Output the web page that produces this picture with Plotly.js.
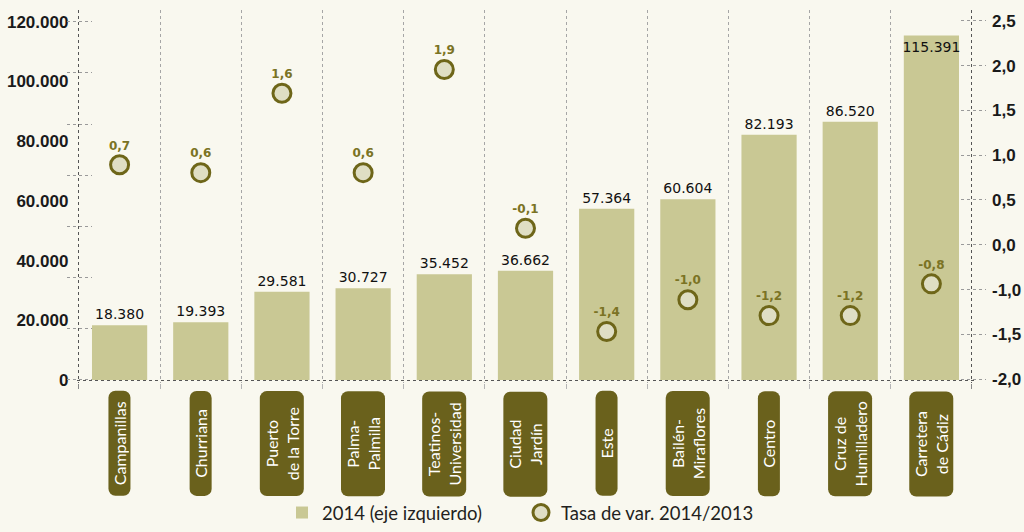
<!DOCTYPE html>
<html>
<head>
<meta charset="utf-8">
<script src="https://cdn.plot.ly/plotly-3.0.1.min.js"></script>
<style>
  html, body { margin: 0; padding: 0; background: #f9f8ef; }
  #chart { width: 1024px; height: 532px; }
</style>
</head>
<body>
<div id="chart"></div>
<script>
// ---- Data ----
const categories = ['Campanillas', 'Churriana', 'Puerto de la Torre', 'Palma-Palmilla', 'Teatinos-Universidad',
  'Ciudad Jardín', 'Este', 'Bailén-Miraflores', 'Centro', 'Cruz de Humilladero', 'Carretera de Cádiz'];
const categoryLabels = ['Campanillas', 'Churriana', 'Puerto<br>de la Torre', 'Palma-<br>Palmilla', 'Teatinos-<br>Universidad',
  'Ciudad<br>Jardín', 'Este', 'Bailén-<br>Miraflores', 'Centro', 'Cruz de<br>Humilladero', 'Carretera<br>de Cádiz'];
const population2014 = [18380, 19393, 29581, 30727, 35452, 36662, 57364, 60604, 82193, 86520, 115391];
const rateChange = [0.7, 0.6, 1.6, 0.6, 1.9, -0.1, -1.4, -1.0, -1.2, -1.2, -0.8];
const leftTickVals = [0, 20000, 40000, 60000, 80000, 100000, 120000];
const leftTickText = ['0', '20.000', '40.000', '60.000', '80.000', '100.000', '120.000'];
const rightTickText = ['-2,0', '-1,5', '-1,0', '0,0', '0,5', '1,0', '1,5', '2,0', '2,5'];
const barName = '2014 (eje izquierdo)';
const rateName = 'Tasa de var. 2014/2013';

// ---- Helpers ----
const W = 1024, H = 532;
const DY = 2;
const px = v => v / W;
const py = v => 1 - (v + DY) / H;
const fmtThousands = v => String(v).replace(/\B(?=(\d{3})+(?!\d))/g, '.');
const fmtRate = v => v.toFixed(1).replace('.', ',');

const bg = '#f9f8ef';
const barColor = '#c9c894';
const olive = '#6a611c';

const barPositions = population2014.map((v, i) => i === population2014.length - 1 ? 'inside' : 'outside');

const rightIdx = rightTickText.map((_, i) => i);
const leftMarkIdx = [0, 1, 2, 3, 4, 5, 6, 7];

const traces = [
  {
    type: 'bar', name: barName, x: categories, y: population2014,
    marker: { color: barColor }, width: 0.68,
    text: population2014.map(fmtThousands), textposition: barPositions,
    insidetextanchor: 'end', constraintext: 'none', textangle: 0,
    textfont: { family: 'DejaVu Sans', size: 14, color: '#111' },
    cliponaxis: false, hoverinfo: 'skip'
  },
  {
    type: 'scatter', name: rateName, x: categories, y: rateChange, yaxis: 'y2',
    mode: 'markers+text',
    marker: { size: 18, color: '#dfdec4', line: { color: '#6e6619', width: 3 } },
    text: rateChange.map(fmtRate), textposition: 'top center',
    textfont: { family: 'DejaVu Sans', size: 12, weight: 'bold', color: '#7b7324' },
    cliponaxis: false, hoverinfo: 'skip'
  },
  { type: 'scatter', x: [], y: [], xaxis: 'x3', yaxis: 'y3', showlegend: false, hoverinfo: 'skip' },
  { type: 'scatter', x: [], y: [], xaxis: 'x4', yaxis: 'y4', showlegend: false, hoverinfo: 'skip' },
  { type: 'scatter', x: [], y: [], xaxis: 'x2', yaxis: 'y5', showlegend: false, hoverinfo: 'skip' }
];

const unit = (972 - 79) / 11;
const xDom = [px(79 - 0.02 * unit), px(972 + 0.02 * unit)];
const yDom = [py(384), py(8)];
const pxPer1000 = (381 - 20) / 120;
const yRange = [-(384 - 381) / pxPer1000 * 1000, 120000 + (20 - 8) / pxPer1000 * 1000];
const circPx = 80, circZero = 220;
const y2Range = [(circZero - 384) / circPx, (circZero - 8) / circPx];
const markDom = [py(390), py(5)];

const annotations = categories.map((c, i) => ({
  x: c, xref: 'x', y: py(445), yref: 'paper', yanchor: 'middle',
  text: categoryLabels[i], textangle: -90, showarrow: false,
  bgcolor: olive, borderpad: 1,
  width: 102, height: categoryLabels[i].includes('<br>') ? 41 : 19,
  align: 'center', valign: 'middle',
  font: { family: 'Lato', size: 16, color: '#ffffff' }
}));

const layout = {
  width: W, height: H,
  paper_bgcolor: bg, plot_bgcolor: 'rgba(0,0,0,0)',
  margin: { l: 0, r: 0, t: 0, b: 0, pad: 0 },
  showlegend: true,
  legend: {
    orientation: 'h', x: px(282), xanchor: 'left', y: py(515), yanchor: 'middle',
    entrywidth: 194, entrywidthmode: 'pixels',
    font: { family: 'Lato', size: 18.5, color: '#231f20' }, bgcolor: 'rgba(0,0,0,0)'
  },
  bargap: 0.32,
  xaxis: {
    type: 'category', domain: xDom, range: [-0.52, 10.52], anchor: 'y',
    tickson: 'boundaries', showgrid: true, griddash: 'dot', gridcolor: '#a6a6a6', gridwidth: 1,
    ticks: 'outside', ticklen: 5, tickcolor: '#b5b5b5', showticklabels: false,
    showline: false, zeroline: false, fixedrange: true
  },
  xaxis2: {
    overlaying: 'x', type: 'linear', range: [-0.52, 10.52], anchor: 'y5',
    tickvals: [-0.5, 10.5], showgrid: true, griddash: 'dot', gridcolor: '#555', gridwidth: 1,
    ticks: 'outside', ticklen: 5, tickcolor: '#888', showticklabels: false,
    showline: false, zeroline: false, fixedrange: true
  },
  yaxis: {
    domain: yDom, range: yRange, anchor: 'x',
    tickvals: leftTickVals, ticktext: leftTickText,
    tickfont: { family: 'Liberation Sans', size: 17, weight: 'bold', color: '#1a1a1a' },
    ticks: '', ticklabelstandoff: 8, showgrid: false, zeroline: false, showline: false, fixedrange: true
  },
  yaxis5: {
    overlaying: 'y', range: yRange, anchor: 'x2',
    tickvals: [0], showticklabels: false, ticks: '',
    showgrid: true, griddash: 'dot', gridcolor: '#555', gridwidth: 1,
    zeroline: false, showline: false, fixedrange: true
  },
  yaxis2: {
    overlaying: 'y', side: 'right', range: y2Range, anchor: 'x',
    showticklabels: false, ticks: '', showgrid: false, zeroline: false, showline: false, fixedrange: true
  },
  xaxis3: { domain: [px(67), px(92)], range: [0, 1], anchor: 'y3', visible: false, fixedrange: true },
  yaxis3: {
    domain: markDom, anchor: 'x3',
    range: [-(390 - 380.5) / 51.5, (380.5 - 5) / 51.5],
    tickvals: leftMarkIdx, showticklabels: false, ticks: '',
    showgrid: true, griddash: 'dot', gridcolor: '#9a9a9a', gridwidth: 1,
    zeroline: false, showline: false, fixedrange: true
  },
  xaxis4: { domain: [px(961), px(986)], range: [0, 1], anchor: 'y4', visible: false, fixedrange: true },
  yaxis4: {
    domain: markDom, anchor: 'x4', side: 'right',
    range: [-(390 - 380) / 45.125, (380 - 5) / 45.125],
    tickvals: rightIdx, ticktext: rightTickText,
    tickfont: { family: 'Liberation Sans', size: 17, weight: 'bold', color: '#1a1a1a' },
    ticks: '', ticklabelstandoff: 5,
    showgrid: true, griddash: 'dot', gridcolor: '#9a9a9a', gridwidth: 1,
    zeroline: false, showline: false, fixedrange: true
  },
  annotations: annotations
};

Plotly.newPlot('chart', traces, layout, { staticPlot: true, displayModeBar: false }).then(() => {
  document.querySelectorAll('#chart .annotation rect.bg').forEach(r => {
    r.setAttribute('rx', 7);
    r.setAttribute('ry', 7);
  });
});
</script>
</body>
</html>
